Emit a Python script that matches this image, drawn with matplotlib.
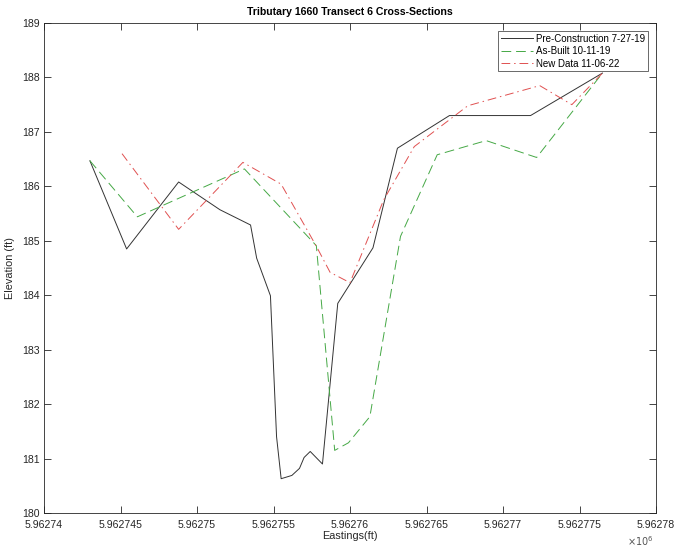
import matplotlib
matplotlib.use("Agg")
import matplotlib.pyplot as plt

plt.rcParams['font.family'] = ['Liberation Sans', 'DejaVu Sans']

# Eastings (ft) and elevations (ft) for each survey
pre_e = [5962743.0, 5962745.4, 5962748.8, 5962751.5, 5962753.5, 5962753.9,
         5962754.8, 5962755.2, 5962755.5, 5962756.2, 5962756.7, 5962757.0,
         5962757.4, 5962758.2, 5962759.2, 5962761.5, 5962763.1, 5962766.5,
         5962771.8, 5962776.5]
pre_z = [186.47, 184.85, 186.08, 185.57, 185.29, 184.68,
         183.99, 181.40, 180.63, 180.69, 180.82, 181.02,
         181.13, 180.90, 183.85, 184.87, 186.70, 187.30,
         187.30, 188.08]

built_e = [5962743.0, 5962746.1, 5962753.1, 5962757.8, 5962759.0, 5962759.9,
           5962761.3, 5962763.3, 5962765.7, 5962768.9, 5962772.2, 5962776.5]
built_z = [186.47, 185.44, 186.32, 184.91, 181.15, 181.29,
           181.77, 185.08, 186.58, 186.84, 186.53, 188.08]

new_e = [5962745.1, 5962748.8, 5962753.0, 5962755.5, 5962757.8, 5962758.7,
         5962760.0, 5962762.2, 5962764.2, 5962767.7, 5962772.4, 5962774.5,
         5962776.5]
new_z = [186.60, 185.21, 186.44, 186.04, 184.90, 184.42,
         184.23, 185.75, 186.73, 187.48, 187.85, 187.50,
         188.08]

x_ticks = [5962740 + 5 * i for i in range(9)]
y_ticks = list(range(180, 190))

fig = plt.figure(figsize=(6.74, 5.48), dpi=100)
ax = fig.add_axes([44 / 674, 35 / 548, 612 / 674, 490 / 548])

ax.plot(pre_e, pre_z, color='#333333', lw=0.7, ls='-', label='Pre-Construction 7-27-19')
ax.plot(built_e, built_z, color='#45a845', lw=0.7, ls=(0, (10, 5)), label='As-Built 10-11-19')
ax.plot(new_e, new_z, color='#e05050', lw=0.7, ls=(0, (9, 4, 1.5, 4)), label='New Data 11-06-22')

ax.set_xlim(5962740, 5962780)
ax.set_ylim(180, 189)
ax.set_xticks(x_ticks)
ax.set_xticklabels(['{:.7g}'.format(v / 1e6) for v in x_ticks])
ax.set_yticks(y_ticks)
ax.set_yticklabels([str(v) for v in y_ticks])

ax.tick_params(direction='in', length=5, width=0.6, colors='#262626',
               labelsize=7.6, top=True, right=True, pad=3)
ax.tick_params(axis='x', pad=5)
for s in ax.spines.values():
    s.set_color('#262626')
    s.set_linewidth(0.6)

ax.set_xlabel('Eastings(ft)', fontsize=7.8, color='#262626', labelpad=1)
ax.set_ylabel('Elevation (ft)', fontsize=7.8, color='#262626', labelpad=5)
ax.set_title('Tributary 1660 Transect 6 Cross-Sections', fontsize=7.6,
             fontweight='bold', color='black', pad=6)

fig.text(640 / 674, 1 - 541 / 548, r'$\times10^{6}$', fontsize=7,
         color='#555555', ha='center', va='center')

leg = ax.legend(loc='upper right', fontsize=7, frameon=True, fancybox=False,
                edgecolor='#262626', handlelength=3.3, borderpad=0.3,
                labelspacing=0.25, handletextpad=0.35, borderaxespad=0.8)
leg.get_frame().set_linewidth(0.6)

fig.savefig('out.png', dpi=100)
